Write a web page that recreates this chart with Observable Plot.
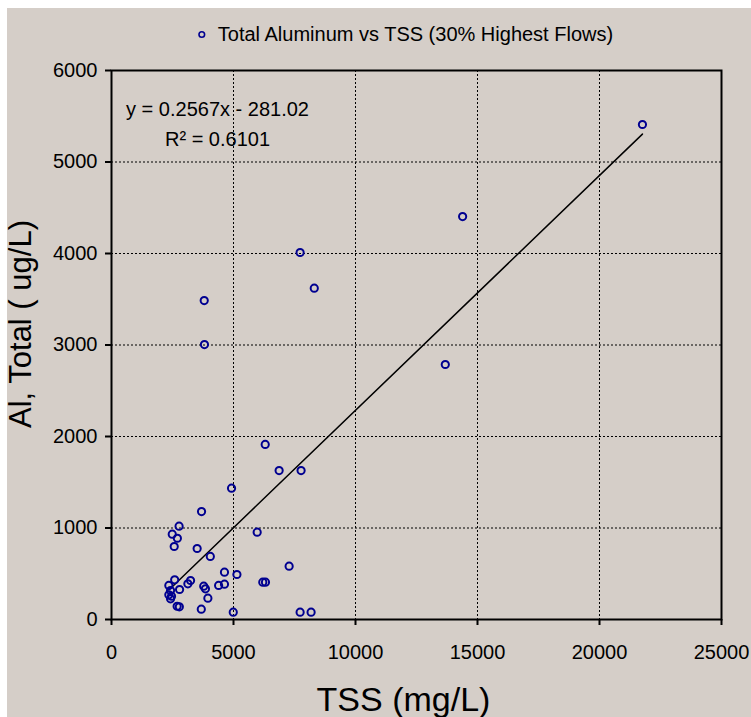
<!DOCTYPE html>
<html><head><meta charset="utf-8">
<script src="https://cdn.jsdelivr.net/npm/d3@7"></script>
<script src="https://cdn.jsdelivr.net/npm/@observablehq/plot@0.6"></script>
<style>
html,body{margin:0;padding:0;background:#fff;}
#chart{position:absolute;left:7px;top:8px;width:744px;height:709px;background:#d5cec8;}
</style></head><body><div id="chart"></div>
<script>
const tss = [21760,14390,7730,8310,3800,3810,13680,6300,6870,7770,4920,3690,2770,2490,2700,2570,3510,4050,5970,7280,4630,5140,2590,3240,3130,3780,3850,4390,4630,6200,6310,2350,2420,2790,2350,2460,2420,3950,2690,2780,3680,4990,7730,8180];
const al  = [5410,4404,4011,3621,3486,3005,2787,1913,1628,1628,1435,1180,1020,932,888,798,776,689,954,583,517,492,434,426,390,364,335,372,386,408,408,372,317,328,270,255,226,233,145,139,113,80,80,80];
const xTicks = [0,5000,10000,15000,20000,25000];
const yTicks = [0,1000,2000,3000,4000,5000,6000];
const xGrid = [5000,10000,15000,20000];
const yGrid = [1000,2000,3000,4000,5000];
const slope = 0.2567, intercept = -281.02;
const legendLabel = "Total Aluminum vs TSS (30% Highest Flows)";
const eqLabel = "y = 0.2567x - 281.02";
const r2Label = "R² = 0.6101";
const xLabel = "TSS (mg/L)";
const yLabel = "Al, Total ( ug/L)";

const points = tss.map((x,i)=>({x, y: al[i]}));
const xmin = d3.min(tss), xmax = d3.max(tss);
const trend = [xmin, xmax].map(x=>({x, y: slope*x+intercept}));
const navy = "#000090";

const plot = Plot.plot({
  width: 744, height: 709,
  marginLeft: 104, marginRight: 30, marginTop: 62, marginBottom: 98,
  style: {background: "transparent", color: "black", fontFamily: "'Liberation Sans', Arial, sans-serif", fontSize: "20px", overflow: "visible"},
  x: {domain: [0, 25000]},
  y: {domain: [0, 6000]},
  marks: [
    Plot.gridX(xGrid, {stroke: "black", strokeOpacity: 1, strokeDasharray: "2,2", strokeWidth: 1}),
    Plot.gridY(yGrid, {stroke: "black", strokeOpacity: 1, strokeDasharray: "2,2", strokeWidth: 1}),
    Plot.axisX({ticks: xTicks, tickSize: 6, tickPadding: 19, label: null, tickFormat: d => String(d), fontSize: 20, strokeWidth: 2}),
    Plot.axisY({ticks: yTicks, tickSize: 6, tickPadding: 8, label: null, tickFormat: d => String(d), fontSize: 20, strokeWidth: 2}),
    Plot.frame({stroke: "black", strokeWidth: 2}),
    Plot.line(trend, {x: "x", y: "y", stroke: "black", strokeWidth: 1.5}),
    Plot.dot(points, {x: "x", y: "y", r: 3.6, stroke: navy, strokeWidth: 2, fill: "none"}),
    Plot.text([eqLabel], {frameAnchor: "top-left", dx: 106, dy: 45, lineAnchor: "bottom", textAnchor: "middle", fontSize: 20, fill: "black"}),
    Plot.text([r2Label], {frameAnchor: "top-left", dx: 106, dy: 75, lineAnchor: "bottom", textAnchor: "middle", fontSize: 20, fill: "black"}),
    Plot.dot([0], {frameAnchor: "top-left", dx: 90.3, dy: -36, r: 2.8, stroke: navy, strokeWidth: 1.6, fill: "none"}),
    Plot.text([legendLabel], {frameAnchor: "top-left", dx: 106.3, dy: -30, lineAnchor: "bottom", textAnchor: "start", fontSize: 20, fill: "black"}),
    Plot.text([xLabel], {frameAnchor: "bottom", dx: -13, dy: 91, lineAnchor: "bottom", textAnchor: "middle", fontSize: 34, fill: "black"}),
    Plot.text([yLabel], {frameAnchor: "left", dx: -81, dy: -21, rotate: -90, lineAnchor: "bottom", textAnchor: "middle", fontSize: 31, fill: "black"})
  ]
});
document.getElementById("chart").appendChild(plot);
</script></body></html>
